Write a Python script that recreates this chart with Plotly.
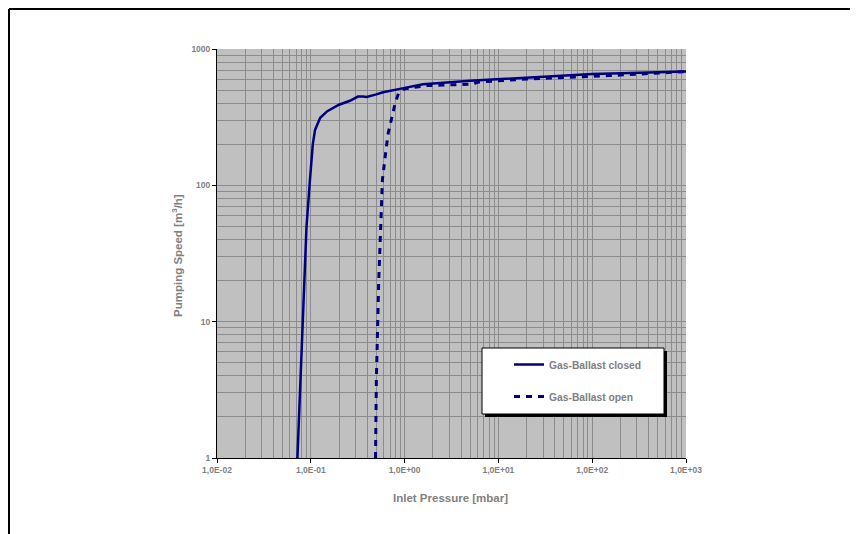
import plotly.graph_objects as go

# ---- data ----
closed_p = [0.072, 0.075, 0.08, 0.085, 0.09, 0.098, 0.105, 0.111, 0.126, 0.15, 0.2, 0.261,
            0.318, 0.36, 0.394, 0.5, 0.59, 0.89, 1.57, 5.0, 27.5, 100, 1000]
closed_s = [1, 2, 6, 15, 50, 110, 200, 255, 313, 350, 390, 417,
            448, 448, 444, 465, 482, 510, 552, 585, 628, 655, 683]

open_p = [0.49, 0.50, 0.53, 0.56, 0.58, 0.64, 0.67, 0.73, 0.80, 0.86, 1.0, 1.71,
          3.0, 5.3, 6.0, 15.5, 20, 153, 1000]
open_s = [1, 3.75, 20, 63, 110, 193, 243, 313, 410, 470, 510, 539,
          545, 552, 571, 593, 603, 638, 683]

x_tickvals = [0.01, 0.1, 1, 10, 100, 1000]
x_ticktext = ["1,0E-02", "1,0E-01", "1,0E+00", "1,0E+01", "1,0E+02", "1,0E+03"]
y_tickvals = [1, 10, 100, 1000]
y_ticktext = ["1", "10", "100", "1000"]

# ---- layout geometry (page has an 8px body margin) ----
OFF = 8
W, H = 850, 526
L, R, T, B = 209, 172, 41, 76
PW, PH = W - L - R, H - T - B


def px(x):
    """page x pixel -> paper coordinate"""
    return (x - OFF - L) / PW


def py(y):
    """page y pixel -> paper coordinate"""
    return (H - B - (y - OFF)) / PH


FONT = "Liberation Sans, Arial, sans-serif"
GRAY = "#808080"
NAVY = "#000080"
GRID = "#8c8c8c"

fig = go.Figure()
fig.add_trace(go.Scatter(x=closed_p, y=closed_s, mode="lines", name="Gas-Ballast closed",
                         line=dict(color=NAVY, width=2.5), legendgroup="a"))
fig.add_trace(go.Scatter(x=open_p, y=open_s, mode="lines", name="Gas-Ballast open",
                         line=dict(color=NAVY, width=3, dash="6px,6px"), legendgroup="b"))

axis_common = dict(
    showline=True, linecolor="black", linewidth=1,
    ticks="outside", ticklen=4, tickcolor="black", tickwidth=1,
    showgrid=True, gridcolor=GRID, gridwidth=1,
    zeroline=False,
    tickfont=dict(family=FONT, size=8.5, color=GRAY, weight="bold"),
)

fig.update_xaxes(type="log", range=[-2, 3], tickvals=x_tickvals, ticktext=x_ticktext,
                 minor=dict(showgrid=True, gridcolor=GRID, gridwidth=1, ticks="",
                            tickvals=[m * 10 ** e for e in range(-2, 3) for m in range(2, 10)]),
                 **axis_common)
fig.update_yaxes(type="log", range=[0, 3], tickvals=y_tickvals, ticktext=y_ticktext,
                 minor=dict(showgrid=True, gridcolor=GRID, gridwidth=1, ticks="",
                            tickvals=[m * 10 ** e for e in range(0, 3) for m in range(2, 10)]),
                 **axis_common)

shapes = [
    # outer frame (top and left edges)
    dict(type="line", xref="paper", yref="paper", x0=px(9), x1=px(870), y0=py(9), y1=py(9),
         line=dict(color="black", width=2)),
    dict(type="line", xref="paper", yref="paper", x0=px(9), x1=px(9), y0=py(9), y1=py(545),
         line=dict(color="black", width=2)),
    # legend shadow and box
    dict(type="rect", xref="paper", yref="paper", x0=px(485), x1=px(667), y0=py(351), y1=py(417),
         fillcolor="black", line=dict(width=0), layer="above"),
    dict(type="rect", xref="paper", yref="paper", x0=px(482), x1=px(664), y0=py(348), y1=py(414),
         fillcolor="white", line=dict(color="black", width=1), layer="above"),
]

annotations = [
    dict(text="<b>Inlet Pressure [mbar]</b>", xref="paper", yref="paper", x=px(450), y=py(498),
         showarrow=False, font=dict(family=FONT, size=11.5, color=GRAY), xanchor="center", yanchor="middle"),
    dict(text="<b>Pumping Speed [m<sup>3</sup>/h]</b>", xref="paper", yref="paper", x=px(177), y=py(256),
         showarrow=False, textangle=-90, font=dict(family=FONT, size=11.5, color=GRAY),
         xanchor="center", yanchor="middle"),
]

fig.update_layout(
    width=W, height=H,
    margin=dict(l=L, r=R, t=T, b=B, pad=0),
    paper_bgcolor="white", plot_bgcolor="#c0c0c0",
    shapes=shapes, annotations=annotations,
    showlegend=True,
    legend=dict(x=px(509), y=py(350), xanchor="left", yanchor="top",
                bgcolor="rgba(0,0,0,0)", borderwidth=0, tracegroupgap=13,
                font=dict(family=FONT, size=10.3, color=GRAY, weight="bold")),
)

fig.write_html("out.html")
